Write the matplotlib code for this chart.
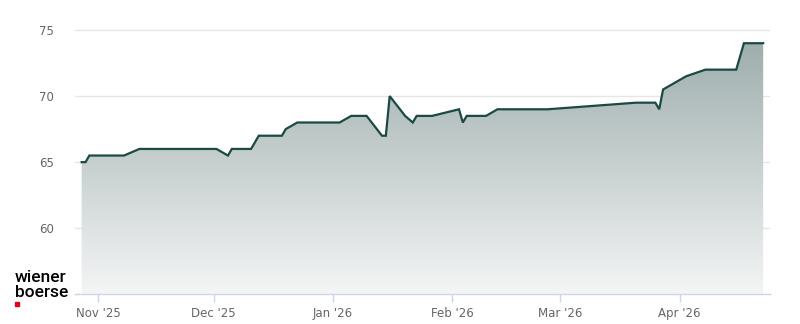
import matplotlib
matplotlib.use("Agg")
import matplotlib.pyplot as plt
import matplotlib.dates as mdates
from matplotlib.colors import LinearSegmentedColormap
from matplotlib.patches import Rectangle
import numpy as np
import pandas as pd

# closing prices (trading days, close 17:30)
dates = ["2025-10-27", "2025-10-28", "2025-10-29", "2025-11-07", "2025-11-11",
         "2025-12-01", "2025-12-04", "2025-12-05", "2025-12-10", "2025-12-12",
         "2025-12-18", "2025-12-19", "2025-12-22", "2026-01-02", "2026-01-05",
         "2026-01-09", "2026-01-13", "2026-01-14", "2026-01-15", "2026-01-19",
         "2026-01-21", "2026-01-22", "2026-01-26", "2026-02-02", "2026-02-03",
         "2026-02-04", "2026-02-09", "2026-02-12", "2026-02-25", "2026-03-20",
         "2026-03-25", "2026-03-26", "2026-03-27", "2026-04-02", "2026-04-07",
         "2026-04-15", "2026-04-17", "2026-04-22"]
prices = [65, 65, 65.5, 65.5, 66,
          66, 65.5, 66, 66, 67,
          67, 67.5, 68, 68, 68.5,
          68.5, 67, 67, 70, 68.5,
          68, 68.5, 68.5, 69, 68,
          68.5, 68.5, 69, 69, 69.5,
          69.5, 69, 70.5, 71.5, 72,
          72, 74, 74]

y_ticks = [60, 65, 70, 75]
x_ticks = ["2025-11-01", "2025-12-01", "2026-01-01", "2026-02-01", "2026-03-01", "2026-04-01"]
x_labels = ["Nov '25", "Dec '25", "Jan '26", "Feb '26", "Mar '26", "Apr '26"]

t = mdates.date2num(pd.to_datetime(dates) + pd.Timedelta(hours=17, minutes=30))
y = np.array(prices)

fig = plt.figure(figsize=(8, 3.24), dpi=100)
ax = fig.add_axes([75 / 800, 1 - 294.3 / 324, 695 / 800, 294.3 / 324])

x0 = mdates.date2num(pd.Timestamp("2025-10-26 00:00"))
x1 = mdates.date2num(pd.Timestamp("2026-04-24 12:00"))
ymin, ymax = 55, 77.27
ax.set_xlim(x0, x1)
ax.set_ylim(ymin, ymax)

# gradient fill under the line
cmap = LinearSegmentedColormap.from_list("g", ["#f4f5f5", "#8fa2a0"])
grad = np.linspace(0, 1, 256).reshape(-1, 1)
im = ax.imshow(grad, cmap=cmap, origin="lower", aspect="auto",
               extent=[x0, x1, ymin, ymax], zorder=1)
poly = ax.fill_between(t, y, ymin, color="none", lw=0)
im.set_clip_path(poly.get_paths()[0], transform=ax.transData)

ax.plot(t, y, color="#1b4a44", lw=1.6, zorder=3, solid_joinstyle="miter")

ax.set_yticks(y_ticks)
ax.set_yticklabels([str(v) for v in y_ticks])
ax.grid(axis="y", color="#e6e6e6", lw=1)
ax.set_axisbelow(True)
ax.tick_params(axis="y", length=0, pad=15, labelsize=8.5, labelcolor="#666666")

ax.set_xticks(mdates.date2num(pd.to_datetime(x_ticks)))
ax.set_xticklabels(x_labels)
ax.tick_params(axis="x", length=6, width=1, color="#ccd6eb", pad=3,
               labelsize=8.5, labelcolor="#666666")

for s in ["top", "right", "left"]:
    ax.spines[s].set_visible(False)
ax.spines["bottom"].set_color("#ccd6eb")
ax.spines["bottom"].set_linewidth(1)

# logo
fig.text(15 / 800, 1 - 282.5 / 324, "wiener", fontsize=12.5, family="Roboto",
         weight="medium", color="#000000", va="baseline")
fig.text(15 / 800, 1 - 297 / 324, "boerse", fontsize=12.5, family="Roboto",
         weight="medium", color="#000000", va="baseline")
fig.patches.append(Rectangle((15 / 800, 1 - 306 / 324), 4 / 800, 4 / 324,
                             transform=fig.transFigure, color="#e2001a"))

fig.savefig("out.png", dpi=100)
